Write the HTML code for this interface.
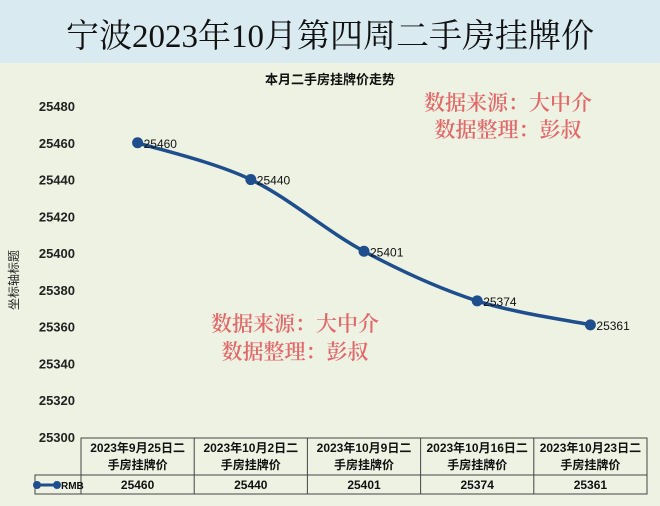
<!DOCTYPE html>
<html><head><meta charset="utf-8">
<style>
body{margin:0;width:660px;height:506px;overflow:hidden;background:#eef2e3;font-family:"Liberation Sans","Noto Sans CJK SC",sans-serif;}
#hdr{position:absolute;left:0;top:0;width:660px;height:63px;background:#d9ebf1;}
#hdr div{position:absolute;left:0;width:660px;top:10px;text-align:center;font-family:"Liberation Serif","Noto Serif CJK SC",serif;font-size:33px;color:#111;}
svg{position:absolute;left:0;top:0;}
</style></head><body>
<div id="hdr"><div>宁波2023年10月第四周二手房挂牌价</div></div>
<svg id="c" width="660" height="506"></svg>
<script>
const categories=["2023年9月25日二|手房挂牌价","2023年10月2日二|手房挂牌价","2023年10月9日二|手房挂牌价","2023年10月16日二|手房挂牌价","2023年10月23日二|手房挂牌价"];
const values=[25460,25440,25401,25374,25361];
const yTicks=[25300,25320,25340,25360,25380,25400,25420,25440,25460,25480];
const seriesName="RMB";
const svg=document.getElementById('c');const NS='http://www.w3.org/2000/svg';
function mk(t,a,p){const e=document.createElementNS(NS,t);for(const k in a)e.setAttribute(k,a[k]);(p||svg).appendChild(e);return e;}
const yMin=25300,yMax=25480,yTop=106,yBot=437;
function y(v){return yBot-(v-yMin)/(yMax-yMin)*(yBot-yTop);}
const colL=81,colW=113.2;
function x(i){return colL+colW*(i+0.5);}
let t=mk('text',{x:330,y:84,'text-anchor':'middle','font-size':13,'font-weight':'bold',fill:'#111'});t.textContent='本月二手房挂牌价走势';

yTicks.forEach(v=>{const e=mk('text',{x:75,y:y(v)+5,'text-anchor':'end','font-size':13,'font-weight':'bold',fill:'#222'});e.textContent=v;
});
t=mk('text',{x:18,y:280,'font-size':12,fill:'#222',transform:'rotate(-90 18 280)','text-anchor':'middle'});t.textContent='坐标轴标题';

const pts=values.map((v,i)=>[x(i),y(v)]);
let d='M'+pts[0];
for(let i=0;i<pts.length-1;i++){const p0=pts[i-1]||pts[i],p1=pts[i],p2=pts[i+1],p3=pts[i+2]||p2;
d+=` C${p1[0]+(p2[0]-p0[0])/6},${p1[1]+(p2[1]-p0[1])/6} ${p2[0]-(p3[0]-p1[0])/6},${p2[1]-(p3[1]-p1[1])/6} ${p2[0]},${p2[1]}`;}
const ln=mk('path',{d:d,fill:'none',stroke:'#1f4e8c','stroke-width':3.5});

pts.forEach((p,i)=>{const c=mk('circle',{cx:p[0],cy:p[1],r:5.5,fill:'#1f4e8c'});

const l=mk('text',{x:p[0]+6,y:p[1]+5,'font-size':12,fill:'#111'});l.textContent=values[i];
});
[[508,110],[508,137],[295,331],[295,359]].forEach((w,k)=>{const e=mk('text',{x:w[0],y:w[1],'text-anchor':'middle','font-size':21,'font-weight':600,fill:'#e06a6a','font-family':'"Liberation Serif","Noto Serif CJK SC",serif'});
e.textContent=k%2==0?'数据来源：大中介':'数据整理：彭叔';
});
const tb=mk('g',{stroke:'#444','stroke-width':1,fill:'none'});
const right=colL+colW*categories.length;
mk('rect',{x:colL,y:438,width:right-colL,height:56},tb);
mk('rect',{x:35,y:475,width:right-35,height:19},tb);
for(let i=1;i<categories.length;i++)mk('line',{x1:colL+colW*i,y1:438,x2:colL+colW*i,y2:494},tb);
categories.forEach((c,i)=>{const [a,b]=c.split('|');
[a,b].forEach((s,j)=>{const e=mk('text',{x:x(i),y:452+j*17,'text-anchor':'middle','font-size':12,'font-weight':'bold',fill:'#111'});e.textContent=s;
});
const e=mk('text',{x:x(i),y:489,'text-anchor':'middle','font-size':12,'font-weight':'bold',fill:'#111'});e.textContent=values[i];
});
const lg=mk('g',{});
mk('line',{x1:37,y1:485,x2:57,y2:485,stroke:'#1f4e8c','stroke-width':3},lg);
mk('circle',{cx:37,cy:485,r:4,fill:'#1f4e8c'},lg);mk('circle',{cx:57,cy:485,r:4,fill:'#1f4e8c'},lg);
t=mk('text',{x:61,y:489,'font-size':10,'font-weight':'bold',fill:'#111'},lg);t.textContent=seriesName;
</script>
</body></html>
